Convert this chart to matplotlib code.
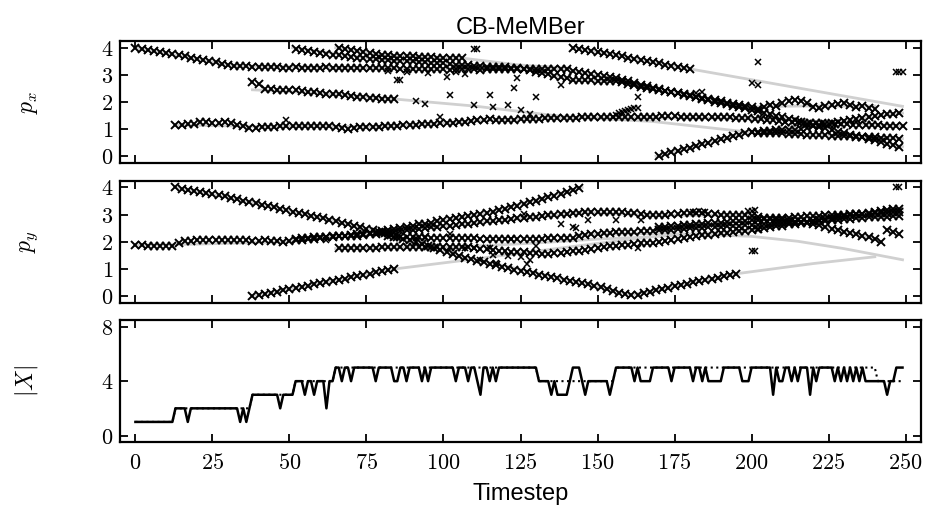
import numpy as np
import matplotlib
matplotlib.use('Agg')
import matplotlib.pyplot as plt
from matplotlib.ticker import FuncFormatter

plt.rcParams['mathtext.fontset'] = 'cm'
plt.rcParams['font.family'] = ['Liberation Sans', 'DejaVu Sans']

# ---------------- p_x estimates: (first timestep, values every 2nd timestep) ----------------
px_a = (0, [4.00, 3.97, 3.93, 3.89, 3.85, 3.81, 3.77, 3.73, 3.68, 3.64, 3.59, 3.55, 3.50, 3.46, 3.41, 3.37,
            3.33, 3.32, 3.31, 3.30, 3.29, 3.29, 3.28, 3.28, 3.27, 3.27, 3.28, 3.27, 3.26, 3.27, 3.27, 3.28,
            3.27, 3.26, 3.27, 3.27, 3.26, 3.26, 3.25, 3.25, 3.25, 3.24, 3.24, 3.23, 3.22, 3.22, 3.21, 3.21,
            3.20, 3.20, 3.20, 3.19, 3.20, 3.21, 3.20, 3.20, 3.19, 3.20, 3.21, 3.20, 3.20, 3.21, 3.22, 3.22,
            3.23, 3.22, 3.23, 3.22, 3.22, 3.22, 3.20, 3.16, 3.11, 3.07, 3.03, 3.00, 2.96, 2.92, 2.87, 2.82,
            2.76, 2.70, 2.64, 2.58, 2.53, 2.47, 2.42, 2.37, 2.32, 2.27, 2.22, 2.17, 2.12, 2.07, 2.01, 1.96,
            1.91, 1.86, 1.81, 1.77, 1.72, 1.66, 1.60, 1.55, 1.49, 1.44, 1.38, 1.32, 1.26, 1.20, 1.15, 1.09,
            1.03, 0.97, 0.91, 0.85, 0.80, 0.74, 0.69, 0.63, 0.58, 0.52, 0.46, 0.40, 0.35])
px_b = (13, [1.15, 1.15, 1.17, 1.20, 1.25, 1.27, 1.24, 1.23, 1.25, 1.22, 1.16, 1.10, 1.05, 1.04, 1.06, 1.08,
             1.09, 1.10, 1.10, 1.12, 1.12, 1.13, 1.13, 1.12, 1.13, 1.11, 1.06, 1.03, 1.02, 1.03, 1.06, 1.07,
             1.08, 1.09, 1.10, 1.12, 1.13, 1.14, 1.15, 1.16, 1.17, 1.19, 1.20, 1.21, 1.22, 1.24, 1.26, 1.28,
             1.30, 1.33, 1.35, 1.36, 1.35, 1.34, 1.34, 1.35, 1.36, 1.37, 1.38, 1.39, 1.40, 1.40, 1.41, 1.42,
             1.42, 1.42, 1.43, 1.43, 1.44, 1.44, 1.45, 1.45, 1.46, 1.46, 1.46, 1.46, 1.46, 1.46, 1.46, 1.47,
             1.47, 1.47, 1.46, 1.46, 1.46, 1.45, 1.46, 1.46, 1.45, 1.44, 1.43, 1.42, 1.41, 1.40, 1.38, 1.36,
             1.34, 1.32, 1.30, 1.28, 1.27, 1.26, 1.24, 1.23, 1.22, 1.21, 1.20, 1.19, 1.18, 1.17, 1.16, 1.16,
             1.15, 1.14, 1.14, 1.13, 1.13, 1.12, 1.12])
px_c = (38, [2.72, 2.68, 2.48, 2.47, 2.46, 2.45, 2.44, 2.43, 2.40, 2.38, 2.35, 2.33, 2.31, 2.30, 2.28, 2.25,
             2.22, 2.20, 2.18, 2.15, 2.13, 2.12, 2.11, 2.10])
px_d = (52, [3.97, 3.93, 3.89, 3.85, 3.81, 3.77, 3.74, 3.72, 3.69, 3.66, 3.64, 3.62, 3.59, 3.57, 3.55, 3.54,
             3.53, 3.52, 3.51, 3.50, 3.49, 3.47, 3.45, 3.43, 3.42, 3.40, 3.38, 3.37, 3.35, 3.33, 3.32, 3.30,
             3.30, 3.29, 3.28, 3.27, 3.26, 3.22, 3.17, 3.12, 3.07, 3.02, 2.97, 2.92, 2.87, 2.82, 2.81, 2.80,
             2.80, 2.79, 2.78, 2.77, 2.76, 2.72, 2.67, 2.62, 2.57, 2.52, 2.49, 2.45, 2.41, 2.37, 2.33, 2.29,
             2.25, 2.20, 2.16, 2.11, 2.07, 2.02, 1.98, 1.93, 1.89, 1.84, 1.80, 1.75, 1.82, 1.90, 1.85, 1.95,
             2.05, 2.08, 2.05, 1.95, 1.82, 1.78, 1.84, 1.88, 1.93, 1.96, 1.88, 1.80, 1.85, 1.78, 1.74])
px_e = (66, [3.98, 3.94, 3.91, 3.87, 3.84, 3.81, 3.78, 3.75, 3.73, 3.71, 3.70, 3.69, 3.68, 3.67, 3.66, 3.65,
             3.64, 3.63, 3.63, 3.62, 3.62])
px_f = (142, [3.98, 3.95, 3.91, 3.87, 3.84, 3.80, 3.77, 3.73, 3.69, 3.64, 3.60, 3.56, 3.51, 3.47, 3.42, 3.38,
              3.34, 3.30, 3.26, 3.22])
px_g = (170, [0.02, 0.08, 0.14, 0.20, 0.26, 0.32, 0.38, 0.44, 0.50, 0.56, 0.62, 0.68, 0.74, 0.80, 0.85, 0.88,
              0.90, 0.92, 0.94, 0.95, 0.96, 0.97, 0.98, 1.00, 1.05, 1.10, 1.14, 1.19, 1.23, 1.28, 1.31, 1.35,
              1.38, 1.42, 1.45, 1.49, 1.52, 1.54, 1.56, 1.59])
px_h = (200, [0.88, 0.87, 0.86, 0.85, 0.85, 0.84, 0.83, 0.82, 0.81, 0.80, 0.79, 0.78, 0.77, 0.76, 0.75, 0.74,
              0.73, 0.72, 0.71, 0.70, 0.69, 0.68, 0.67, 0.66, 0.65])
px_chains = [px_a, px_b, px_c, px_d, px_e, px_f, px_g, px_h]

# single p_x estimates (clutter / short bits)
px_clut_t = [49, 82, 85, 86, 88, 91, 94, 95, 99, 101, 102, 104, 107, 110, 110, 111, 115, 116, 121, 123, 124,
             125, 128, 130, 138, 155, 156, 157, 158, 159, 160, 161, 162, 163, 163, 182, 184, 200, 202, 202,
             247, 248, 249]
px_clut_v = [1.34, 3.14, 2.80, 2.80, 3.12, 2.03, 1.94, 3.08, 1.45, 2.93, 2.25, 3.10, 3.05, 1.88, 3.97, 3.97,
             2.25, 1.82, 1.88, 2.50, 2.87, 1.70, 1.57, 2.17, 2.62, 1.45, 1.52, 1.58, 1.63, 1.68, 1.72, 1.75,
             1.77, 1.76, 2.19, 2.34, 2.36, 2.70, 3.48, 2.62, 3.11, 3.11, 3.11]

# true p_x tracks (gray)
gx_t = [[0, 32, 80, 140, 167, 199, 249],
        [51, 81, 106, 125, 142, 157, 167, 199, 215, 240],
        [65, 81, 106, 124, 140],
        [13, 40, 80, 110, 140, 199, 249],
        [38, 60, 85, 110, 139, 168, 199, 249],
        [143, 181, 249],
        [169, 199, 249]]
gx_v = [[4.0, 3.33, 3.25, 3.2, 2.55, 1.75, 0.35],
        [4.0, 3.54, 3.37, 3.28, 2.82, 2.76, 2.5, 1.82, 1.85, 1.85],
        [4.0, 3.73, 3.62, 3.37, 3.25],
        [1.15, 1.1, 1.1, 1.3, 1.42, 1.4, 1.12],
        [2.45, 2.32, 2.1, 1.85, 1.46, 1.28, 0.89, 0.65],
        [4.0, 3.2, 1.84],
        [0.0, 0.88, 1.59]]

# ---------------- p_y estimates ----------------
py_a = (0, [1.88, 1.87, 1.86, 1.85, 1.84, 1.84, 1.86, 1.95, 2.02, 2.04, 2.05, 2.06, 2.06, 2.05, 2.05, 2.06,
            2.06, 2.05, 2.05, 2.04, 2.04, 2.05, 2.04, 2.02, 2.00, 2.02, 2.05, 2.08, 2.10, 2.12, 2.15, 2.17,
            2.19, 2.21, 2.23, 2.25, 2.28, 2.30, 2.32, 2.36, 2.41, 2.45, 2.49, 2.52, 2.56, 2.60, 2.64, 2.67,
            2.71, 2.75, 2.79, 2.83, 2.86, 2.90, 2.94, 2.98, 3.02, 3.06, 3.11, 3.16, 3.22, 3.27, 3.33, 3.39,
            3.45, 3.51, 3.58, 3.64, 3.70, 3.77, 3.83, 3.90, 3.97])
py_b = (13, [4.00, 3.96, 3.92, 3.88, 3.84, 3.80, 3.76, 3.71, 3.67, 3.62, 3.57, 3.52, 3.47, 3.42, 3.37, 3.32,
             3.27, 3.21, 3.16, 3.11, 3.06, 3.01, 2.96, 2.91, 2.86, 2.81, 2.76, 2.71, 2.66, 2.60, 2.55, 2.49,
             2.43, 2.37, 2.31, 2.24, 2.18, 2.11, 2.05, 1.98, 1.91, 1.84, 1.77, 1.69, 1.62, 1.55, 1.48, 1.42,
             1.36, 1.30, 1.24, 1.18, 1.13, 1.08, 1.03, 0.98, 0.93, 0.88, 0.84, 0.79, 0.75, 0.70, 0.66, 0.61,
             0.57, 0.52, 0.48, 0.43, 0.38, 0.33, 0.27, 0.20, 0.13, 0.08, 0.05, 0.06, 0.11, 0.16, 0.21, 0.26,
             0.31, 0.36, 0.41, 0.46, 0.51, 0.55, 0.59, 0.64, 0.68, 0.73, 0.78, 0.83])
py_c = (38, [0.02, 0.05, 0.09, 0.13, 0.17, 0.21, 0.25, 0.29, 0.34, 0.38, 0.43, 0.47, 0.52, 0.56, 0.61, 0.65,
             0.70, 0.74, 0.79, 0.83, 0.88, 0.92, 0.96, 1.00])
py_d = (52, [2.12, 2.13, 2.15, 2.16, 2.17, 2.19, 2.20, 2.20, 2.21, 2.22, 2.23, 2.25, 2.27, 2.29, 2.31, 2.33,
             2.36, 2.39, 2.42, 2.45, 2.48, 2.50, 2.53, 2.55, 2.58, 2.60, 2.62, 2.65, 2.67, 2.70, 2.72, 2.75,
             2.77, 2.80, 2.82, 2.84, 2.86, 2.88, 2.90, 2.92, 2.95, 2.97, 2.99, 3.01, 3.03, 3.05, 3.07, 3.08,
             3.09, 3.09, 3.10, 3.10, 3.10, 3.09, 3.07, 3.05, 3.03, 3.00, 2.98, 2.99, 3.00, 3.02, 3.04, 3.05,
             3.06, 3.07, 3.05, 3.03, 3.01, 3.00, 2.99, 2.99, 2.98, 2.98, 2.95, 2.92, 2.89, 2.86, 2.82, 2.79,
             2.76, 2.74, 2.72, 2.70, 2.67, 2.61, 2.55, 2.49, 2.43, 2.38, 2.33, 2.28, 2.22, 2.16, 2.10, 1.98,
             2.42, 2.35, 2.28])
py_e = (66, [1.76, 1.76, 1.77, 1.77, 1.78, 1.78, 1.79, 1.80, 1.80, 1.81, 1.81, 1.82, 1.82, 1.82, 1.82, 1.82,
             1.82, 1.82, 1.82, 1.82, 1.82, 1.80, 1.78, 1.75, 1.72, 1.70, 1.68, 1.66, 1.64, 1.63, 1.61, 1.59,
             1.58, 1.57, 1.57, 1.58, 1.60, 1.62, 1.65, 1.68, 1.71, 1.74, 1.77, 1.80, 1.83, 1.86, 1.88, 1.90,
             1.92, 1.94, 1.95, 1.97, 2.00, 2.04, 2.07, 2.11, 2.15, 2.18, 2.21, 2.24, 2.26, 2.29, 2.31, 2.34,
             2.36, 2.39, 2.41, 2.43, 2.46, 2.50, 2.53, 2.57, 2.60, 2.64, 2.67, 2.71, 2.74, 2.78, 2.81, 2.85,
             2.88, 2.91, 2.95, 2.98, 3.01, 3.04, 3.07, 3.10, 3.13, 3.16, 3.19, 3.22])
py_f = (82, [2.20, 2.19, 2.18, 2.17, 2.17, 2.16, 2.16, 2.15, 2.15, 2.15, 2.14, 2.14, 2.13, 2.13, 2.13, 2.12,
             2.12, 2.12, 2.12, 2.12, 2.12, 2.12, 2.12, 2.12, 2.12, 2.12, 2.13, 2.13, 2.14, 2.14, 2.15, 2.20,
             2.25, 2.28, 2.30, 2.32, 2.34, 2.35, 2.36, 2.37, 2.38, 2.39, 2.40, 2.41, 2.42, 2.43, 2.45, 2.47,
             2.48, 2.50, 2.51, 2.52, 2.54, 2.55, 2.56, 2.58, 2.59, 2.60, 2.61, 2.62, 2.63, 2.65, 2.66, 2.68,
             2.69, 2.70, 2.72, 2.73, 2.74, 2.75, 2.77, 2.78, 2.80, 2.81, 2.83, 2.84, 2.86, 2.88, 2.90, 2.91,
             2.92, 2.93, 2.94, 2.95])
py_g = (170, [2.55, 2.56, 2.58, 2.60, 2.62, 2.63, 2.65, 2.66, 2.68, 2.70, 2.71, 2.73, 2.75, 2.77, 2.78, 2.80,
              2.82, 2.83, 2.85, 2.86, 2.88, 2.89, 2.91, 2.92, 2.94, 2.95, 2.96, 2.97, 2.98, 2.99, 3.00, 3.01,
              3.02, 3.03, 3.04, 3.05, 3.06, 3.07, 3.08, 3.10])
py_chains = [py_a, py_b, py_c, py_d, py_e, py_f, py_g]

py_clut_t = [62, 91, 94, 102, 107, 110, 112, 115, 116, 117, 121, 122, 125, 126, 127, 128, 130, 138, 142,
             143, 147, 156, 163, 164, 181, 183, 185, 199, 200, 200, 201, 201, 202, 247, 248]
py_clut_v = [2.06, 2.15, 2.15, 2.28, 1.79, 1.79, 1.33, 1.79, 1.51, 1.23, 1.48, 2.12, 1.43, 3.01, 1.18, 1.33,
             1.84, 2.65, 2.55, 2.52, 2.79, 2.79, 1.76, 2.79, 3.10, 3.12, 3.08, 3.15, 3.12, 1.67, 3.18, 1.67,
             2.43, 4.00, 4.00]

gy_t = [[0, 14, 50, 76, 97, 113, 145],
        [13, 35, 64, 81, 105, 138, 161, 196, 220, 240],
        [38, 84, 111, 140, 167, 199, 249],
        [65, 106, 129, 150, 167],
        [51, 81, 108, 146, 168, 199, 220, 240],
        [143, 160, 172, 185, 200, 215, 230, 249],
        [169, 249]]
gy_v = [[1.88, 1.9, 2.0, 2.32, 2.73, 3.04, 4.0],
        [4.0, 3.52, 2.79, 2.31, 1.48, 0.66, 0.05, 0.84, 1.2, 1.45],
        [0.02, 1.0, 1.38, 1.8, 2.18, 2.42, 3.22],
        [1.75, 1.82, 1.95, 2.1, 2.18],
        [2.12, 2.31, 2.67, 3.08, 2.98, 2.98, 2.67, 2.1],
        [2.25, 2.3, 2.3, 2.27, 2.2, 2.02, 1.75, 1.34],
        [2.55, 3.1]]

# ---------------- cardinality ----------------
card_est = [1, 1, 1, 1, 1, 1, 1, 1, 1, 1,
            1, 1, 1, 2, 2, 2, 2, 1, 2, 2,
            2, 2, 2, 2, 2, 2, 2, 2, 2, 2,
            2, 2, 2, 2, 1, 2, 1, 2, 3, 3,
            3, 3, 3, 3, 3, 3, 3, 2, 3, 3,
            3, 3, 4, 4, 4, 3, 4, 4, 3, 4,
            4, 4, 2, 4, 4, 5, 5, 4, 5, 5,
            4, 5, 5, 5, 5, 5, 5, 5, 4, 5,
            5, 5, 5, 5, 4, 4, 5, 5, 4, 5,
            5, 5, 5, 4, 5, 4, 5, 5, 5, 5,
            5, 5, 5, 5, 4, 5, 5, 5, 4, 5,
            5, 4, 3, 5, 5, 4, 5, 4, 5, 5,
            5, 5, 5, 5, 5, 5, 5, 5, 5, 5,
            5, 4, 4, 4, 4, 3, 4, 3, 3, 3,
            3, 4, 5, 5, 5, 4, 3, 4, 4, 4,
            4, 4, 4, 4, 3, 4, 5, 5, 5, 5,
            5, 5, 4, 5, 4, 4, 4, 4, 5, 5,
            5, 5, 5, 5, 4, 5, 5, 5, 5, 5,
            5, 4, 5, 5, 4, 5, 4, 4, 4, 4,
            4, 5, 5, 5, 5, 5, 5, 4, 4, 4,
            5, 5, 5, 5, 5, 5, 5, 3, 5, 4,
            4, 5, 5, 4, 5, 4, 5, 5, 5, 3,
            5, 4, 5, 5, 5, 5, 5, 4, 5, 4,
            5, 4, 5, 4, 5, 4, 5, 4, 4, 4,
            4, 4, 4, 4, 3, 4, 4, 5, 5, 5]
card_true_t = [0, 12, 13, 37, 38, 51, 52, 64, 65, 130, 131, 155, 156, 240, 241, 249]
card_true_n = [1, 1, 2, 2, 3, 3, 4, 4, 5, 5, 4, 4, 5, 5, 4, 4]

xticks = [0, 25, 50, 75, 100, 125, 150, 175, 200, 225, 250]
gray = '#d0d0d0'

fig = plt.figure(figsize=(9.26, 5.13), dpi=100)
ax1 = fig.add_axes([0.1296, 0.6823, 0.865, 0.2378])
ax2 = fig.add_axes([0.1296, 0.4094, 0.865, 0.2384])
ax3 = fig.add_axes([0.1296, 0.1378, 0.865, 0.2384])

mathfmt = FuncFormatter(lambda v, p: r'$%d$' % v)


def style(ax, ylim, yticks, lab):
    ax.set_xlim(-5, 255)
    ax.set_ylim(*ylim)
    ax.set_xticks(xticks)
    ax.set_yticks(yticks)
    ax.tick_params(direction='in', top=True, right=True, length=6, width=1.3,
                   labelsize=16, pad=5)
    for s in ax.spines.values():
        s.set_linewidth(1.6)
    ax.xaxis.set_major_formatter(mathfmt)
    ax.yaxis.set_major_formatter(mathfmt)
    ax.set_ylabel(lab, fontsize=17)
    ax.yaxis.set_label_coords(-0.1, 0.5)


def draw(ax, gts, gvs, chains, ct, cv):
    for t, v in zip(gts, gvs):
        ax.plot(t, v, color=gray, lw=2, zorder=1)
    for start, vals in chains:
        t = start + 2 * np.arange(len(vals))
        ax.plot(t, vals, 'x', color='k', ms=5.5, mew=1.4, zorder=2)
    ax.plot(ct, cv, 'x', color='k', ms=4.5, mew=1.1, zorder=2)


draw(ax1, gx_t, gx_v, px_chains, px_clut_t, px_clut_v)
draw(ax2, gy_t, gy_v, py_chains, py_clut_t, py_clut_v)

ax3.plot(card_true_t, card_true_n, ':', color='k', lw=1.5)
ax3.plot(np.arange(len(card_est)), card_est, '-', color='k', lw=1.8)

style(ax1, (-0.25, 4.25), [0, 1, 2, 3, 4], r'$p_x$')
style(ax2, (-0.25, 4.25), [0, 1, 2, 3, 4], r'$p_y$')
style(ax3, (-0.5, 8.5), [0, 4, 8], r'$|X|$')
ax1.tick_params(labelbottom=False)
ax2.tick_params(labelbottom=False)
ax3.tick_params(axis='x', pad=8)

ax1.set_title('CB-MeMBer', fontsize=17, pad=5)
ax3.set_xlabel('Timestep', fontsize=17, labelpad=6)

fig.savefig('out.png', dpi=100)
